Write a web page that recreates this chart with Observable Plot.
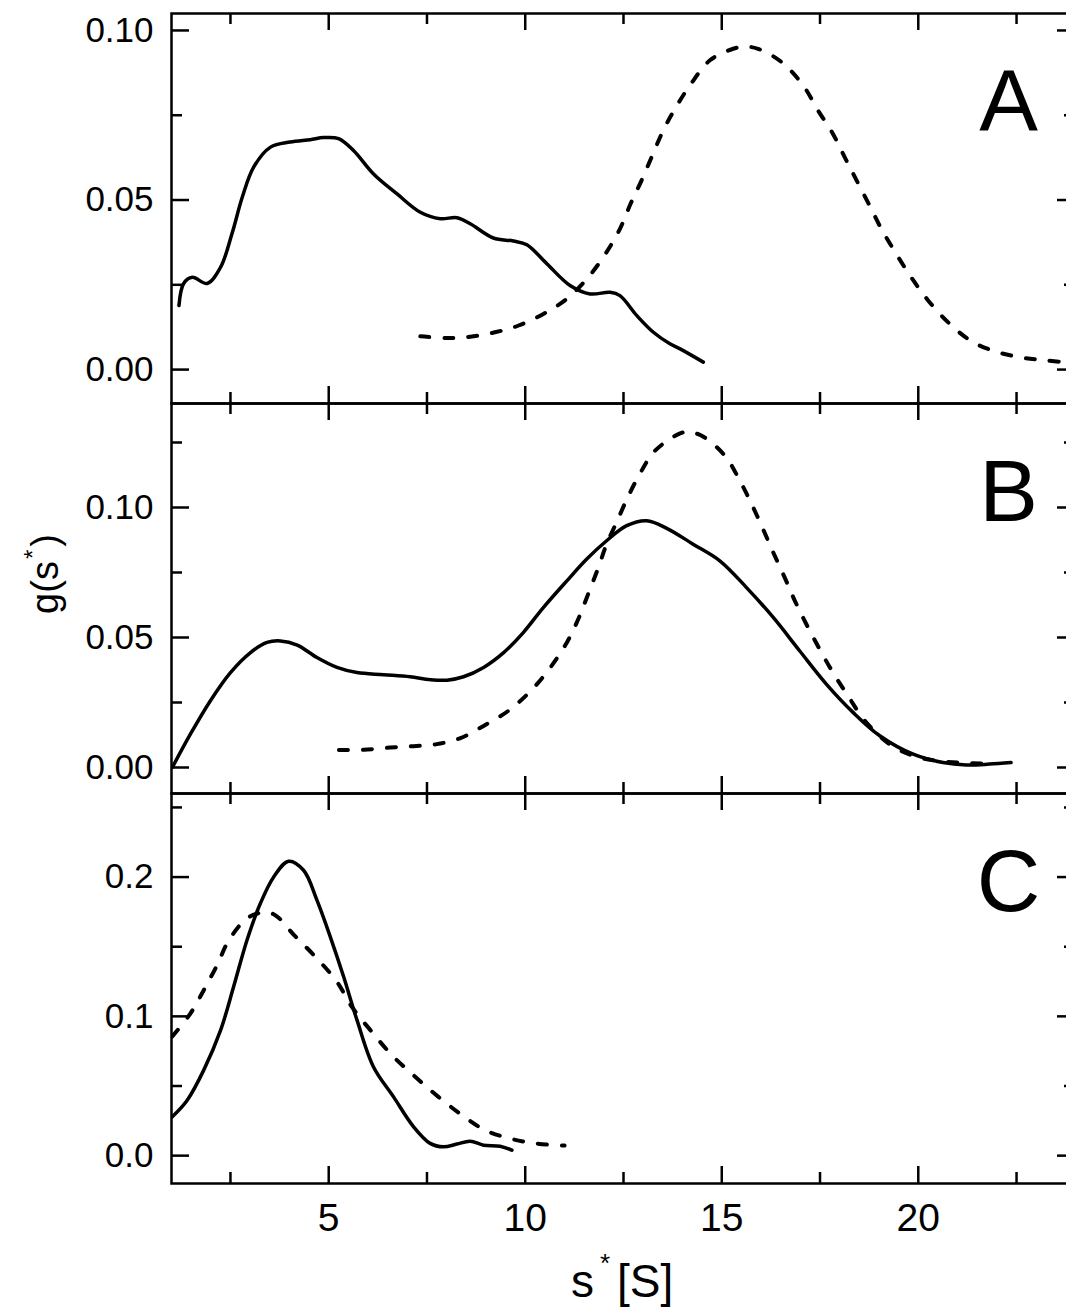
<!DOCTYPE html>
<html><head><meta charset="utf-8">
<script src="https://cdn.jsdelivr.net/npm/d3@7"></script>
<script src="https://cdn.jsdelivr.net/npm/@observablehq/plot@0.6"></script>
<style>
html,body{margin:0;padding:0;background:#fff;overflow:hidden;}
#wrap{position:relative;width:1066px;height:1308px;overflow:hidden;background:#fff;}
#wrap svg{position:absolute;left:0;overflow:visible;background:transparent;max-width:none !important;}
</style></head><body><div id="wrap"></div>
<script>
// ---------- data (s* in S, g(s*)) ----------
const xMajorTicks = [5, 10, 15, 20];
const xMinorTicks = [2.5, 7.5, 12.5, 17.5, 22.5];
const panelLetters = ["A", "B", "C"];

// Panel A
const sA_solid = [1.19,1.31,1.53,1.91,2.25,2.54,2.80,3.09,3.52,4.02,4.53,4.87,5.25,5.63,6.14,6.74,7.33,7.84,8.26,8.60,9.19,9.70,10.04,10.55,11.14,11.65,12.16,12.41,12.84,13.26,13.68,13.94,14.53];
const gA_solid = [0.0189,0.0254,0.0272,0.0254,0.0302,0.0401,0.0508,0.0597,0.0656,0.0671,0.0678,0.0684,0.0681,0.0646,0.0577,0.0518,0.0464,0.0445,0.0448,0.0430,0.0388,0.0379,0.0368,0.0312,0.0248,0.0223,0.0228,0.0218,0.0159,0.0110,0.0076,0.0061,0.0022];
const sA_dashed = [7.33,8.0,8.6,9.23,9.83,10.46,11.06,11.6,12.05,12.41,12.68,12.96,13.22,13.51,13.81,14.19,14.70,15.29,15.6,15.92,16.52,17.07,17.45,17.83,18.13,18.43,18.76,19.06,19.44,19.82,20.25,20.80,21.39,22.03,22.66,23.25,23.9];
const gA_dashed = [0.0098,0.0093,0.0097,0.0110,0.0130,0.0164,0.0209,0.0272,0.0343,0.0415,0.0489,0.0558,0.0628,0.0705,0.0769,0.0838,0.0912,0.0946,0.0952,0.0946,0.0907,0.0838,0.0764,0.0695,0.0626,0.0558,0.0484,0.0415,0.0341,0.0272,0.0204,0.0135,0.0081,0.0051,0.0035,0.0027,0.0020];

// Panel B
const sB_solid = [1.02,1.48,1.99,2.50,3.01,3.43,3.77,4.20,4.70,5.21,5.72,6.40,7.07,7.58,8.01,8.43,8.94,9.45,9.95,10.46,11.06,11.56,12.07,12.58,13.09,13.60,14.27,14.95,15.63,16.31,16.98,17.66,18.34,19.02,19.87,20.63,21.22,21.81,22.36];
const gB_solid = [0.0,0.0128,0.0257,0.0365,0.0442,0.0481,0.0487,0.0471,0.0423,0.0385,0.0365,0.0357,0.0349,0.0338,0.0336,0.0349,0.0385,0.0442,0.0519,0.0615,0.0718,0.0801,0.0872,0.0930,0.0949,0.0920,0.0859,0.0795,0.0692,0.0577,0.0449,0.0321,0.0212,0.0122,0.0051,0.0019,0.0010,0.0013,0.0019];
const sB_dashed = [5.26,5.89,6.57,7.16,7.75,8.35,8.94,9.57,10.16,10.67,11.06,11.35,11.60,11.86,12.07,12.32,12.58,12.90,13.30,13.94,14.15,14.49,15.08,15.46,15.76,16.05,16.31,16.60,16.86,17.15,17.49,17.83,18.21,18.64,19.27,19.87,20.46,21.06,21.65];
const gB_dashed = [0.0067,0.0068,0.0077,0.0082,0.0090,0.0113,0.0160,0.0218,0.0298,0.0391,0.0481,0.0571,0.0667,0.0769,0.0859,0.0942,0.1030,0.1125,0.1218,0.1285,0.1290,0.1276,0.1199,0.1103,0.1013,0.0917,0.0827,0.0731,0.0641,0.0552,0.0455,0.0365,0.0276,0.0180,0.0090,0.0045,0.0026,0.0019,0.0015];

// Panel C
const sC_solid = [1.02,1.40,1.82,2.25,2.58,2.92,3.26,3.60,3.98,4.36,4.70,5.04,5.38,5.72,6.14,6.65,7.16,7.58,7.92,8.26,8.60,8.94,9.36,9.66];
const gC_solid = [0.0279,0.0398,0.0614,0.0901,0.1212,0.1547,0.1810,0.2001,0.2114,0.2049,0.1834,0.1571,0.1284,0.0973,0.0637,0.0422,0.0207,0.0088,0.0063,0.0083,0.0104,0.0075,0.0068,0.0039];
const sC_dashed = [1.02,1.48,1.82,2.16,2.46,2.92,3.30,3.62,4.12,4.70,5.21,5.59,6.06,6.61,7.20,7.79,8.39,8.98,9.61,10.25,11.0];
const gC_dashed = [0.0855,0.1020,0.1188,0.1368,0.1547,0.1703,0.1745,0.1730,0.1583,0.1416,0.1248,0.1068,0.0901,0.0721,0.0566,0.0422,0.0291,0.0183,0.0123,0.0088,0.0072];

const yDomainA = [-0.01, 0.105], yMajorA = [0, 0.05, 0.10], yMinorA = [0.025, 0.075];
const yDomainB = [-0.01, 0.14],  yMajorB = [0, 0.05, 0.10], yMinorB = [0.025, 0.075, 0.125];
const yDomainC = [-0.02, 0.26],  yMajorC = [0, 0.1, 0.2],   yMinorC = [0.05, 0.15, 0.25];

// ---------- layout ----------
const FONT = "'Liberation Sans', Arial, Helvetica, sans-serif";
const W = 1080, ML = 171, RIGHT = 1075, MR = W - RIGHT, MT = 13, PH = 390, PW = RIGHT - ML;
const toRows = (xs, ys) => xs.map((s, i) => ({s, g: ys[i]}));
const wrap = document.getElementById("wrap");

function panel({top, yDomain, yMajor, yMinor, yFmt, solid, dashed, letter, marginBottom = 13, xAxis = false}) {
  const tickStyle = {stroke: "black", strokeWidth: 2.5};
  const marks = [
    Plot.line(solid, {x: "s", y: "g", curve: "catmull-rom", stroke: "black", strokeWidth: 3.5, clip: true}),
    Plot.line(dashed, {x: "s", y: "g", curve: "catmull-rom", stroke: "black", strokeWidth: 4, strokeDasharray: "9,15", clip: true}),
    // inward ticks: left / right
    Plot.tickY(yMajor, {y: d => d, ...tickStyle, insetRight: PW - 18}),
    Plot.tickY(yMinor, {y: d => d, ...tickStyle, insetRight: PW - 11}),
    Plot.tickY(yMajor, {y: d => d, ...tickStyle, insetLeft: PW - 18}),
    Plot.tickY(yMinor, {y: d => d, ...tickStyle, insetLeft: PW - 11}),
    // inward ticks: top / bottom
    Plot.tickX(xMajorTicks, {x: d => d, ...tickStyle, insetBottom: PH - 17}),
    Plot.tickX(xMinorTicks, {x: d => d, ...tickStyle, insetBottom: PH - 11}),
    Plot.tickX(xMajorTicks, {x: d => d, ...tickStyle, insetTop: PH - 17}),
    Plot.tickX(xMinorTicks, {x: d => d, ...tickStyle, insetTop: PH - 11}),
    Plot.frame({stroke: "black", strokeWidth: 2.5}),
    Plot.axisY(yMajor, {tickSize: 0, tickPadding: 18, fontSize: 35, tickFormat: d3.format(yFmt), label: null}),
    Plot.text([letter], {frameAnchor: "top-right", dx: 1008 - RIGHT, dy: 117, lineAnchor: "bottom", textAnchor: "middle", fontSize: 88, fill: "black"})
  ];
  if (xAxis) marks.push(Plot.axisX(xMajorTicks, {tickSize: 0, tickPadding: 20, fontSize: 39, label: null}));
  const svg = Plot.plot({
    width: W, height: MT + PH + marginBottom,
    marginLeft: ML, marginRight: MR, marginTop: MT, marginBottom,
    x: {domain: [1, 24], axis: null},
    y: {domain: yDomain, axis: null},
    style: {fontFamily: FONT, background: "transparent", overflow: "visible", color: "black", maxWidth: "none"},
    marks
  });
  svg.style.top = top + "px";
  wrap.appendChild(svg);
  return svg;
}

const svgA = panel({top: 0, yDomain: yDomainA, yMajor: yMajorA, yMinor: yMinorA, yFmt: ".2f",
  solid: toRows(sA_solid, gA_solid), dashed: toRows(sA_dashed, gA_dashed), letter: panelLetters[0]});
const svgB = panel({top: 390, yDomain: yDomainB, yMajor: yMajorB, yMinor: yMinorB, yFmt: ".2f",
  solid: toRows(sB_solid, gB_solid), dashed: toRows(sB_dashed, gB_dashed), letter: panelLetters[1]});
const svgC = panel({top: 780, yDomain: yDomainC, yMajor: yMajorC, yMinor: yMinorC, yFmt: ".1f",
  solid: toRows(sC_solid, gC_solid), dashed: toRows(sC_dashed, gC_dashed), letter: panelLetters[2],
  marginBottom: 125, xAxis: true});

// y-axis title g(s*) (in panel B's svg)
const yl = d3.select(svgB).append("text")
  .attr("transform", `translate(58, ${574 - 390}) rotate(-90)`)
  .attr("text-anchor", "middle").attr("font-size", 38).attr("font-family", FONT).attr("fill", "black");
yl.append("tspan").text("g(s");
yl.append("tspan").attr("font-size", 24).attr("dy", -17).attr("dx", 2).text("*");
yl.append("tspan").attr("dy", 17).attr("dx", 3).text(")");

// x-axis title s* [S] (in panel C's svg)
const xl = d3.select(svgC).append("text")
  .attr("text-anchor", "start")
  .attr("font-size", 46).attr("font-family", FONT).attr("fill", "black");
xl.append("tspan").attr("x", 571).attr("y", 1297 - 780).text("s");
xl.append("tspan").attr("x", 600).attr("y", 1297 - 780 - 25).attr("font-size", 26).text("*");
xl.append("tspan").attr("x", 617).attr("y", 1297 - 780).text("[S]");
</script>
</body></html>
